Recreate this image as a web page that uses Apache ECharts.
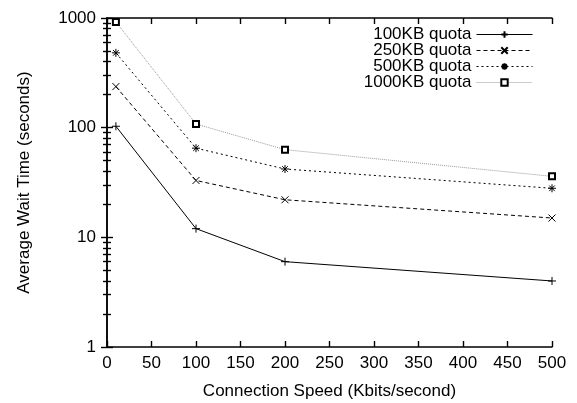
<!DOCTYPE html>
<html><head><meta charset="utf-8">
<script src="https://cdn.jsdelivr.net/npm/echarts@6/dist/echarts.min.js"></script>
<style>html,body{margin:0;padding:0;background:#fff}#c{width:577px;height:403px}</style>
</head><body><div id="c"></div>
<script>
const speeds = [10, 100, 200, 500];
const seriesNames = ['100KB quota', '250KB quota', '500KB quota', '1000KB quota'];
const q100 = [103, 12, 6, 4];
const q250 = [237, 33, 22, 15];
const q500 = [481, 65, 42, 28];
const q1000 = [920, 108, 63, 36];

const FONT = 'Liberation Sans';
const FS = 17;
const chart = echarts.init(document.getElementById('c'));
const pair = v => v.map((y, i) => [speeds[i], y]);
const sym = {
  plus: 'path://M0,5L10,5M5,0L5,10',
  cross: 'path://M0,0L10,10M10,0L0,10',
  star: 'path://M0,5L10,5M5,0L5,10M1.5,1.5L8.5,8.5M8.5,1.5L1.5,8.5'
};
const styles = [
  {data: q100, symbol: sym.plus, size: 8, line: {color: '#000', type: 'solid', width: 1}},
  {data: q250, symbol: sym.cross, size: 7, line: {color: '#000', type: [4, 3], width: 1}},
  {data: q500, symbol: sym.star, size: 8, line: {color: '#000', type: [2, 3], width: 1}},
  {data: q1000, symbol: 'emptyRect', size: 6, line: {color: '#999', type: [1, 1], width: 1}}
];
const series = styles.map((s, i) => ({
  name: seriesNames[i], type: 'line', data: pair(s.data),
  xAxisIndex: 0, yAxisIndex: 0,
  symbol: s.symbol, symbolSize: s.size,
  lineStyle: s.line,
  itemStyle: {color: '#000', borderColor: '#000', borderWidth: 1},
  z: 3
}));
const tickStyle = {color: '#000', width: 1.4};
function xAx(pos, showLabel) {
  return {type: 'value', min: 0, max: 500, interval: 50, position: pos,
    axisLine: {show: true, lineStyle: {color: '#000', width: 1.5}},
    axisTick: {show: true, inside: true, length: 6, lineStyle: tickStyle},
    splitLine: {show: false},
    axisLabel: {show: showLabel, fontFamily: FONT, fontSize: FS, color: '#000', margin: 8}};
}
function yAx(pos, showLabel) {
  return {type: 'log', min: 1, max: 1000, logBase: 10, position: pos,
    axisLine: {show: true, lineStyle: {color: '#000', width: 1.5}},
    axisTick: {show: true, inside: true, length: 6, lineStyle: tickStyle},
    minorTick: {show: true, splitNumber: 9, length: 4, lineStyle: tickStyle},
    splitLine: {show: false}, minorSplitLine: {show: false},
    axisLabel: {show: showLabel, fontFamily: FONT, fontSize: FS, color: '#000', margin: 11,
      formatter: v => String(v)}};
}
const xb = xAx('bottom', true);
Object.assign(xb, {name: 'Connection Speed (Kbits/second)', nameLocation: 'middle', nameGap: 36,
  nameTextStyle: {fontFamily: FONT, fontSize: FS, color: '#000'}});
const yl = yAx('left', true);
Object.assign(yl, {name: 'Average Wait Time (seconds)', nameLocation: 'middle', nameGap: 74,
  nameTextStyle: {fontFamily: FONT, fontSize: FS, color: '#000'}});
const legendTops = [26, 42, 58, 74];
chart.setOption({
  backgroundColor: '#fff',
  animation: false,
  grid: {left: 107, right: 25, top: 18, bottom: 56, outerBoundsMode: 'none', containLabel: false},
  legend: seriesNames.map((n, i) => ({
    data: [n], right: 44, top: legendTops[i], orient: 'vertical', align: 'right',
    itemWidth: 56, itemHeight: 8, itemGap: 0, padding: 0, selectedMode: false,
    lineStyle: {width: 1},
    textStyle: {fontFamily: FONT, fontSize: FS, color: '#000', padding: 0}
  })),
  xAxis: [xb, xAx('top', false)],
  yAxis: [yl, yAx('right', false)],
  series: series
});
</script></body></html>
